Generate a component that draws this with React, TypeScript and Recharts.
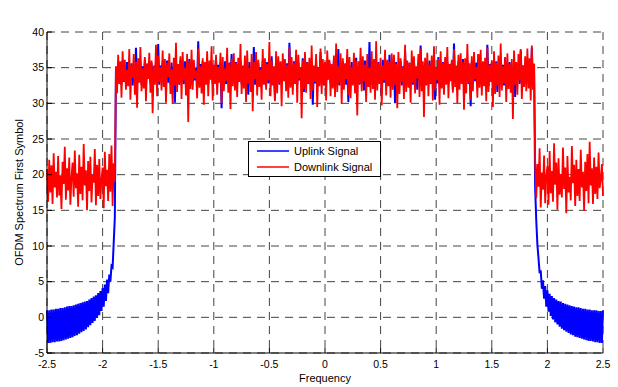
import { LineChart, Line, XAxis, YAxis, CartesianGrid, Label } from "recharts";

const FONT = '"Liberation Sans", Arial, sans-serif';

// frequency grid of the spectrum: -2.5 .. 2.5 in steps of 0.01
const FREQ_START = -2.5;
const FREQ_STEP = 0.01;

const xTicks = [-2.5, -2, -1.5, -1, -0.5, 0, 0.5, 1, 1.5, 2, 2.5];
const yTicks = [-5, 0, 5, 10, 15, 20, 25, 30, 35, 40];

// Uplink Signal (blue)
const uplink = [
  // out of band, left
  1.0, -3.6, 1.0, -3.6, 1.1, -3.5, 1.1, -3.5, 1.2, -3.4,
  1.2, -3.4, 1.3, -3.3, 1.3, -3.2, 1.4, -3.1, 1.5, -3.0,
  1.6, -2.9, 1.6, -2.8, 1.7, -2.6, 1.8, -2.5, 1.9, -2.3,
  2.0, -2.1, 2.1, -1.9, 2.2, -1.7, 2.3, -1.4, 2.5, -1.1,
  2.7, -0.8, 2.9, -0.5, 3.1, -0.1, 3.4, 0.3, 3.7, 0.9,
  4.1, 1.5, 4.6, 2.3, 5.3, 3.4, 6.0, 5.0, 7.2, 7.0,
  10.5, 14.0,
  // in band
  34.6, 32.8, 35.9, 33.2, 35.1, 32.6, 36.0, 33.0, 35.3, 32.9,
  35.8, 32.7, 34.9, 33.4, 35.6, 32.5, 34.8, 33.1, 37.8, 32.8,
  35.4, 33.3, 35.9, 32.6, 35.2, 33.0, 36.1, 32.4, 35.5, 33.5,
  34.7, 32.9, 35.7, 32.7, 35.0, 33.2, 35.8, 32.8, 38.3, 32.6,
  35.3, 33.1, 35.9, 32.5, 35.2, 33.4, 36.0, 32.9, 34.9, 32.7,
  35.7, 32.8, 35.1, 30.1, 35.8, 33.0, 35.4, 32.6, 36.1, 33.1,
  35.0, 32.7, 35.9, 33.3, 34.8, 32.9, 36.2, 32.5, 35.3, 33.0,
  35.6, 33.2, 35.0, 32.8, 38.7, 32.9, 35.5, 32.6, 35.9, 32.4,
  34.9, 33.0, 35.8, 32.7, 35.2, 33.4, 35.6, 32.8, 35.1, 32.9,
  36.0, 32.6, 35.4, 33.1, 35.7, 29.3, 35.1, 33.0, 35.9, 32.7,
  35.2, 32.9, 35.7, 32.5, 36.9, 33.2, 35.0, 32.8, 35.8, 32.6,
  35.5, 33.3, 35.9, 32.7, 34.9, 32.4, 35.6, 33.0, 35.3, 31.2,
  35.8, 32.8, 35.1, 33.4, 37.9, 32.6, 35.5, 32.9, 35.7, 32.5,
  35.0, 33.1, 36.0, 32.7, 35.2, 33.2, 35.8, 32.8, 34.8, 32.9,
  36.6, 32.7, 35.1, 30.6, 35.9, 33.0, 35.4, 32.6, 35.7, 33.1,
  35.0, 33.3, 35.8, 32.8, 35.6, 32.5, 38.5, 32.9, 35.2, 32.7,
  35.9, 33.0, 35.3, 32.6, 35.7, 33.2, 34.9, 32.8, 36.3, 31.6,
  35.1, 32.9, 35.8, 32.7, 35.5, 33.3, 35.6, 29.8, 35.2, 32.8,
  35.9, 32.6, 35.0, 33.1, 37.2, 32.9, 35.4, 32.5, 35.8, 33.0,
  34.9, 33.4, 35.7, 32.8, 35.1, 32.9, 36.0, 32.4, 35.3, 32.7,
  37.6, 32.5, 35.0, 33.1, 35.9, 32.8, 35.5, 32.6, 35.7, 30.2,
  35.2, 33.0, 35.8, 32.7, 35.0, 33.3, 36.4, 32.9, 34.9, 32.6,
  35.6, 32.8, 35.4, 31.8, 36.0, 33.2, 35.2, 32.9, 38.6, 32.7,
  35.0, 33.1, 35.7, 32.6, 35.3, 33.0, 35.8, 32.8, 35.1, 31.5,
  36.1, 32.9, 35.1, 33.3, 35.6, 32.7, 36.8, 32.8, 35.3, 32.9,
  35.5, 30.0, 35.8, 33.0, 35.0, 33.4, 35.9, 32.5, 35.2, 32.8,
  37.3, 32.7, 35.4, 32.9, 35.7, 33.1, 34.8, 32.6, 35.9, 32.9,
  35.1, 31.9, 35.8, 33.3, 38.1, 32.8, 35.3, 32.6, 35.6, 33.0,
  34.9, 32.9, 36.0, 32.7, 35.4, 33.2, 35.7, 30.5, 35.1, 32.8,
  36.5, 32.6, 35.3, 33.0, 35.8, 32.8, 35.0, 32.9, 35.9, 32.7,
  35.5, 33.3, 35.7, 31.9, 38.4, 32.9, 35.2, 32.6, 35.9, 32.8,
  35.0, 33.0, 36.2, 32.5, 35.6, 33.4, 35.8, 32.7, 34.9, 29.6,
  35.9, 32.8, 35.1, 33.1, 35.7, 32.7, 36.9, 32.9, 35.3, 32.6,
  35.8, 33.3, 35.0, 32.9, 38.2, 32.4, 35.5, 33.0, 35.7, 32.8,
  35.2, 32.9, 35.9, 31.6, 35.0, 33.2, 36.0, 32.8, 35.4, 32.5,
  36.4, 32.9, 35.6, 33.0, 35.8, 32.8, 34.9, 32.9, 35.9, 30.9,
  35.1, 33.3, 35.7, 32.7, 37.4, 32.9, 35.3, 32.6, 35.8, 33.0,
  35.0, 32.9, 36.1, 32.7, 37.8, 32.2, 35.5,
  // out of band, right
  18.0, 13.5, 10.2, 8.3, 6.2, 6.6, 4.0, 5.2, 2.6, 4.4,
  1.5, 3.8, 0.8, 3.3, 0.2, 3.0, -0.3, 2.7, -0.7, 2.5,
  -1.0, 2.3, -1.3, 2.2, -1.6, 2.0, -1.8, 1.9, -2.0, 1.8,
  -2.2, 1.7, -2.4, 1.6, -2.5, 1.5, -2.7, 1.4, -2.8, 1.4,
  -2.9, 1.3, -3.0, 1.2, -3.1, 1.2, -3.2, 1.1, -3.3, 1.1,
  -3.3, 1.0, -3.4, 1.0, -3.5, 1.0, -3.5, 0.9, -3.6, 0.9,
  -3.6, 1.0,
];

// Downlink Signal (red)
const downlink = [
  // out of band, left
  20.8, 16.2, 22.1, 17.5, 21.3, 15.9, 23.0, 18.2, 20.4, 16.8,
  22.6, 17.1, 19.9, 15.2, 21.8, 18.7, 23.9, 16.5, 20.9, 17.8,
  22.4, 15.8, 19.6, 21.7, 16.9, 23.4, 18.1, 20.2, 15.5, 22.8,
  17.3, 21.1, 16.4, 24.3, 18.5, 20.6, 15.0, 21.9, 17.7, 22.5,
  16.1, 20.0, 18.9, 23.6, 15.7, 21.4, 17.0, 22.2, 16.6, 19.3,
  21.0, 15.3, 23.2, 18.4, 20.7, 16.3, 22.9, 17.6, 24.1, 15.6,
  21.6, 19.0,
  // in band
  35.2, 31.4, 36.8, 32.7, 35.9, 30.8, 37.3, 33.1, 36.1, 31.9,
  34.7, 32.4, 37.6, 30.5, 35.4, 33.6, 36.9, 31.2, 35.8, 29.4,
  36.3, 32.9, 37.9, 31.7, 34.9, 32.1, 36.5, 30.3, 35.6, 33.4,
  37.1, 31.5, 36.0, 28.6, 35.3, 32.6, 38.2, 31.0, 36.7, 33.0,
  35.1, 31.8, 37.4, 32.3, 36.2, 30.1, 35.7, 33.7, 37.0, 31.3,
  34.8, 29.9, 36.4, 32.5, 38.5, 31.6, 35.5, 32.8, 36.6, 30.6,
  37.2, 33.2, 35.0, 31.1, 36.9, 27.4, 35.9, 32.0, 37.5, 31.9,
  36.1, 33.5, 34.6, 30.7, 37.7, 32.2, 35.2, 31.4, 36.3, 29.8,
  35.8, 32.6, 37.3, 31.0, 36.0, 33.3, 38.0, 30.4, 35.4, 32.7,
  36.8, 31.2, 35.1, 32.9, 37.1, 30.0, 36.5, 31.7, 34.9, 33.1,
  37.8, 31.5, 35.6, 29.2, 36.2, 32.4, 37.0, 31.8, 35.7, 30.9,
  36.4, 33.0, 38.3, 31.3, 35.3, 32.1, 36.7, 30.2, 37.4, 32.8,
  35.0, 31.6, 36.9, 28.9, 35.8, 33.4, 37.2, 31.1, 36.1, 32.3,
  34.7, 30.5, 37.6, 32.6, 36.3, 31.9, 35.5, 33.2, 38.6, 31.0,
  36.0, 32.5, 35.2, 30.3, 37.3, 31.4, 36.6, 32.9, 35.9, 29.6,
  37.0, 33.1, 36.2, 31.7, 35.4, 30.8, 37.9, 32.2, 36.5, 31.2,
  35.6, 32.7, 37.5, 30.1, 36.8, 33.5, 35.1, 27.9, 36.0, 32.0,
  37.2, 31.5, 35.7, 32.8, 36.4, 30.6, 38.1, 31.8, 35.3, 33.0,
  36.9, 29.5, 35.0, 32.4, 37.7, 31.3, 36.2, 32.6, 35.8, 30.4,
  37.4, 33.3, 36.1, 31.0, 35.5, 32.1, 36.7, 30.9, 38.4, 31.6,
  35.2, 32.9, 37.0, 29.9, 36.3, 31.9, 35.6, 33.4, 37.6, 31.2,
  36.5, 30.7, 35.1, 32.5, 37.1, 31.4, 36.0, 28.3, 35.9, 32.8,
  37.8, 31.7, 36.6, 33.1, 35.4, 30.2, 36.9, 32.3, 35.0, 31.5,
  37.3, 32.0, 36.2, 30.5, 38.7, 31.8, 35.7, 32.7, 36.4, 29.7,
  35.3, 33.2, 37.5, 31.1, 36.1, 32.4, 35.8, 30.8, 37.0, 31.9,
  36.8, 32.6, 35.5, 29.3, 37.2, 31.3, 36.3, 33.0, 35.1, 30.6,
  38.2, 31.6, 36.0, 32.2, 35.6, 30.1, 37.4, 32.9, 36.6, 31.4,
  35.2, 33.5, 36.9, 30.9, 37.7, 31.7, 35.9, 28.1, 36.4, 32.5,
  37.1, 31.0, 35.4, 32.8, 36.7, 30.4, 38.0, 31.8, 35.0, 33.3,
  36.2, 29.8, 37.3, 32.1, 35.7, 31.2, 36.5, 32.6, 37.9, 30.7,
  35.5, 33.1, 36.1, 31.5, 37.6, 32.3, 35.3, 30.0, 36.8, 31.9,
  37.0, 32.7, 35.8, 29.1, 36.3, 31.4, 38.3, 32.9, 35.6, 30.5,
  36.6, 31.7, 37.2, 33.4, 35.1, 30.8, 36.9, 32.2, 37.5, 31.1,
  35.9, 32.4, 36.4, 30.3, 37.8, 31.6, 35.4, 33.0, 36.0, 29.5,
  37.3, 31.3, 35.7, 32.5, 36.7, 30.9, 38.4, 31.8, 35.2, 32.8,
  36.5, 30.2, 37.0, 32.0, 35.5, 31.5, 36.2, 27.8, 37.4, 32.6,
  35.8, 31.2, 36.9, 33.2, 37.6, 30.6, 35.3, 32.3, 36.6, 31.7,
  37.7, 32.1, 36.3, 30.4, 38.1, 31.9, 35.6,
  // out of band, right
  22.0, 16.7, 21.5, 18.3, 23.7, 15.4, 20.3, 17.9, 22.7, 16.0,
  19.8, 21.2, 15.8, 23.3, 17.4, 20.5, 16.2, 24.4, 18.6, 21.7,
  15.1, 22.3, 17.2, 20.1, 16.8, 23.8, 18.0, 21.0, 14.6, 22.6,
  17.5, 19.7, 16.4, 24.0, 18.8, 21.4, 15.6, 22.1, 17.0, 20.8,
  16.3, 23.5, 18.2, 20.4, 14.9, 21.8, 17.7, 22.9, 16.0, 24.6,
  18.5, 20.9, 15.9, 22.4, 17.3, 21.1, 16.6, 23.1, 18.1, 19.4,
  21.5, 17.0,
];

const rows = downlink.map((d, i) => ({
  freq: Math.round((FREQ_START + i * FREQ_STEP) * 100) / 100,
  uplink: uplink[i],
  downlink: d,
}));

const tickStyle = { fill: "#000", fontSize: 10.5, fontFamily: FONT };

const legendItems = [
  { name: "Uplink Signal", color: "#0000ff", top: 9 },
  { name: "Downlink Signal", color: "#ff0000", top: 25 },
];

export default function App() {
  return (
    <div style={{ position: "absolute", left: 0, top: 0, width: 618, height: 387, background: "#fff", fontFamily: FONT }}>
      <LineChart width={618} height={387} data={rows} margin={{ top: 32, right: 15, bottom: 0, left: 0 }}>
        <CartesianGrid stroke="#444" strokeDasharray="8 6" />
        <Line dataKey="uplink" stroke="#0000ff" strokeWidth={2} dot={false} isAnimationActive={false} />
        <Line dataKey="downlink" stroke="#ff0000" strokeWidth={1.8} dot={false} isAnimationActive={false} />
        <XAxis
          dataKey="freq"
          type="number"
          domain={[-2.5, 2.5]}
          ticks={xTicks}
          interval={0}
          height={34}
          tickSize={-5}
          tickMargin={13}
          tick={tickStyle}
          stroke="#000"
        >
          <Label
            content={({ viewBox }: any) => (
              <text x={viewBox.x + viewBox.width / 2} y={viewBox.y + 29} textAnchor="middle" fontSize={11} fontFamily={FONT} fill="#000">
                Frequency
              </text>
            )}
          />
        </XAxis>
        <XAxis
          xAxisId="top"
          orientation="top"
          type="number"
          domain={[-2.5, 2.5]}
          ticks={xTicks}
          interval={0}
          height={0}
          tickSize={-5}
          tick={false}
          stroke="#000"
        >
          <Label
            content={({ viewBox }: any) => (
              <text x={viewBox.x + viewBox.width / 2} y={viewBox.y - 11} textAnchor="middle" fontSize={11} fontFamily={FONT} fill="#000">
                HPA Effects on the OFDM Spectrum
              </text>
            )}
          />
        </XAxis>
        <YAxis
          type="number"
          domain={[-5, 40]}
          ticks={yTicks}
          interval={0}
          width={47}
          tickSize={-5}
          tickMargin={8}
          tick={tickStyle}
          stroke="#000"
        >
          <Label
            content={({ viewBox }: any) => {
              const cx = 18.5;
              const cy = viewBox.y + viewBox.height / 2;
              return (
                <text x={cx} y={cy} transform={`rotate(-90 ${cx} ${cy})`} textAnchor="middle" dominantBaseline="central" fontSize={11} fontFamily={FONT} fill="#000">
                  OFDM Spectrum First Symbol
                </text>
              );
            }}
          />
        </YAxis>
        <YAxis
          yAxisId="right"
          orientation="right"
          type="number"
          domain={[-5, 40]}
          ticks={yTicks}
          interval={0}
          width={0}
          tickSize={-5}
          tick={false}
          stroke="#000"
        />
      </LineChart>
      <div
        style={{
          position: "absolute",
          left: 248,
          top: 141,
          width: 131,
          height: 34,
          border: "1px solid #000",
          background: "#fff",
          fontSize: 11,
          color: "#000",
        }}
      >
        <svg width={44} height={34} style={{ position: "absolute", left: 0, top: 0 }}>
          {legendItems.map((item) => (
            <line key={item.name} x1={8} x2={40} y1={item.top} y2={item.top} stroke={item.color} strokeWidth={1.5} />
          ))}
        </svg>
        {legendItems.map((item) => (
          <div key={item.name} style={{ position: "absolute", left: 45, top: item.top - 7, lineHeight: "14px", whiteSpace: "nowrap" }}>
            {item.name}
          </div>
        ))}
      </div>
    </div>
  );
}
